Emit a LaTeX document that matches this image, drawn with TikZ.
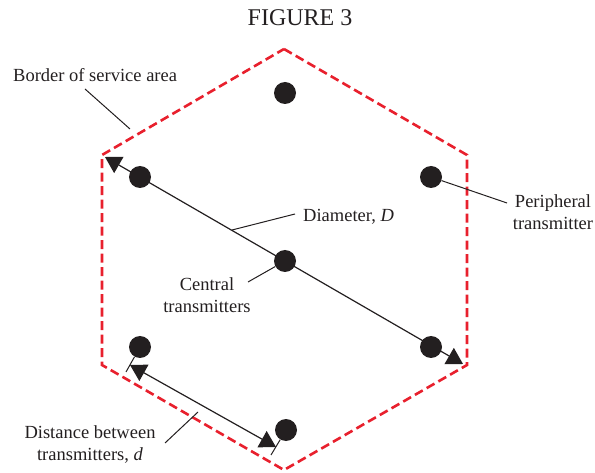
\documentclass[tikz,border=0pt]{standalone}
\usepackage{fontspec}
\setmainfont{Liberation Serif}
\usetikzlibrary{arrows.meta}
\definecolor{hexred}{RGB}{232,32,45}
\definecolor{ink}{RGB}{35,31,32}
\begin{document}
\begin{tikzpicture}[x=1pt,y=-1pt,
  tx/.style={font=\fontsize{18.5}{22}\selectfont, text=ink, inner sep=0pt, align=center},
  dot/.style={circle, fill=ink, minimum size=22pt, inner sep=0pt},
  border/.style={draw=hexred, line width=2.6pt, dash pattern=on 9pt off 4.5pt},
  leader/.style={draw=ink, line width=1pt},
  dim/.style={draw=ink, line width=1.2pt, {Triangle[length=16pt,width=18.5pt]}-{Triangle[length=16pt,width=18.5pt]}}
]
\useasboundingbox (0,0) rectangle (595,473);

% title
\node[tx, font=\fontsize{24}{28}\selectfont, anchor=base] (title) at (300,26) {FIGURE 3};

% service area border
\draw[border] (284,49) -- (467,155) -- (467,365) -- (284,470) -- (102,365) -- (102,155) -- cycle;

% dimension arrows (under the dots)
\coordinate (dA) at (105,157);
\coordinate (dB) at (463,364);
\draw[dim] (dA) -- (dB);

\coordinate (sA) at (130,365);
\coordinate (sB) at (276,447);
\draw[dim] (sA) -- (sB);

% transmitters
\node[dot] (t)  at (285,93)  {};
\node[dot] (ul) at (140,177) {};
\node[dot] (ur) at (431,177) {};
\node[dot] (c)  at (285,261) {};
\node[dot] (ll) at (140,347) {};
\node[dot] (lr) at (431,347) {};
\node[dot] (b)  at (286,430) {};

% extension ticks
\coordinate (t1) at (126,372);
\coordinate (t2) at (271,455);
\draw[leader] (ll) -- (t1);
\draw[leader] (b) -- (t2);

% labels
\node[tx, anchor=base west] (lborder) at (13,82) {Border of service area};
\node[tx, anchor=base west] (ldiam) at (303,222) {Diameter, \textit{D}};
\node[tx, anchor=base] (lperi) at (553,230) {Peripheral\\transmitter};
\node[tx, anchor=base] (lcent) at (207,313) {Central\\transmitters};
\node[tx, anchor=base] (ldist) at (90,460) {Distance between\\transmitters, \textit{d}};

% leaders
\coordinate (bl1) at (85,89);
\coordinate (bl2) at (130,129);
\draw[leader] (bl1) -- (bl2);

\coordinate (dl1) at (232,230);
\coordinate (dl2) at (295,214);
\draw[leader] (dl1) -- (dl2);

\coordinate (pl) at (507,203);
\draw[leader] (ur) -- (pl);

\coordinate (cl) at (248,282);
\draw[leader] (c) -- (cl);

\coordinate (xl1) at (165,443);
\coordinate (xl2) at (198,412);
\draw[leader] (xl1) -- (xl2);
\end{tikzpicture}
\end{document}
